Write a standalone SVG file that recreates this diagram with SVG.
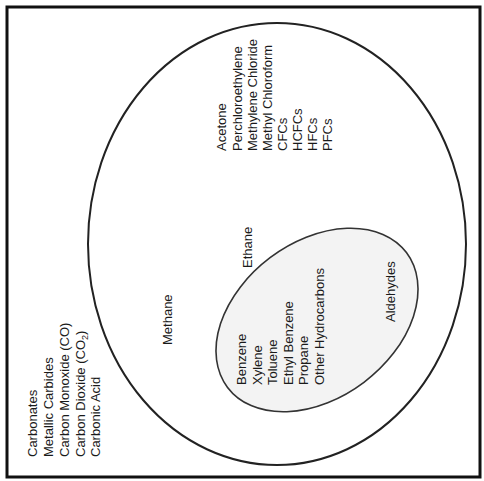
<svg xmlns="http://www.w3.org/2000/svg" width="484" height="481" viewBox="0 0 484 481">
<style>
text{font-family:"Liberation Sans",Arial,sans-serif;font-size:13px;fill:#1a1a1a}
.frame{fill:#fff;stroke:#111;stroke-width:3}
.outer{fill:none;stroke:#222;stroke-width:2}
.inner{fill:#f3f3f3;stroke:#333;stroke-width:1.6}
</style>
<rect class="frame" x="7" y="7" width="473" height="470"/>
<g id="outer-set">
<ellipse class="outer" cx="277" cy="244" rx="189" ry="221"/>
</g>
<g id="inner-set">
<ellipse class="inner" cx="317" cy="320" rx="112" ry="78" transform="rotate(-37 317 320)"/>
</g>
<g id="connectors"></g>
<g id="inorganic">
<text transform="translate(37,457) rotate(-90)">Carbonates</text>
<text transform="translate(53,457) rotate(-90)">Metallic Carbides</text>
<text transform="translate(68.5,457) rotate(-90)">Carbon Monoxide (CO)</text>
<text transform="translate(84.5,457) rotate(-90)">Carbon Dioxide (CO<tspan font-size="9" dy="3">2</tspan><tspan dy="-3">)</tspan></text>
<text transform="translate(100,457) rotate(-90)">Carbonic Acid</text>
</g>
<g id="methane">
<text transform="translate(172,345) rotate(-90)">Methane</text>
</g>
<g id="ethane">
<text transform="translate(252,268) rotate(-90)">Ethane</text>
</g>
<g id="halogenated">
<text transform="translate(226,151) rotate(-90)">Acetone</text>
<text transform="translate(241.5,151) rotate(-90)">Perchloroethylene</text>
<text transform="translate(257,151) rotate(-90)">Methylene Chloride</text>
<text transform="translate(272,151) rotate(-90)">Methyl Chloroform</text>
<text transform="translate(287,151) rotate(-90)">CFCs</text>
<text transform="translate(302,151) rotate(-90)">HCFCs</text>
<text transform="translate(317,151) rotate(-90)">HFCs</text>
<text transform="translate(332,151) rotate(-90)">PFCs</text>
</g>
<g id="hydrocarbons">
<text transform="translate(246,385) rotate(-90)">Benzene</text>
<text transform="translate(262,385) rotate(-90)">Xylene</text>
<text transform="translate(277,385) rotate(-90)">Toluene</text>
<text transform="translate(293,385) rotate(-90)">Ethyl Benzene</text>
<text transform="translate(308,385) rotate(-90)">Propane</text>
<text transform="translate(324,385) rotate(-90)">Other Hydrocarbons</text>
</g>
<g id="aldehydes">
<text transform="translate(395,322) rotate(-90)">Aldehydes</text>
</g>
</svg>
